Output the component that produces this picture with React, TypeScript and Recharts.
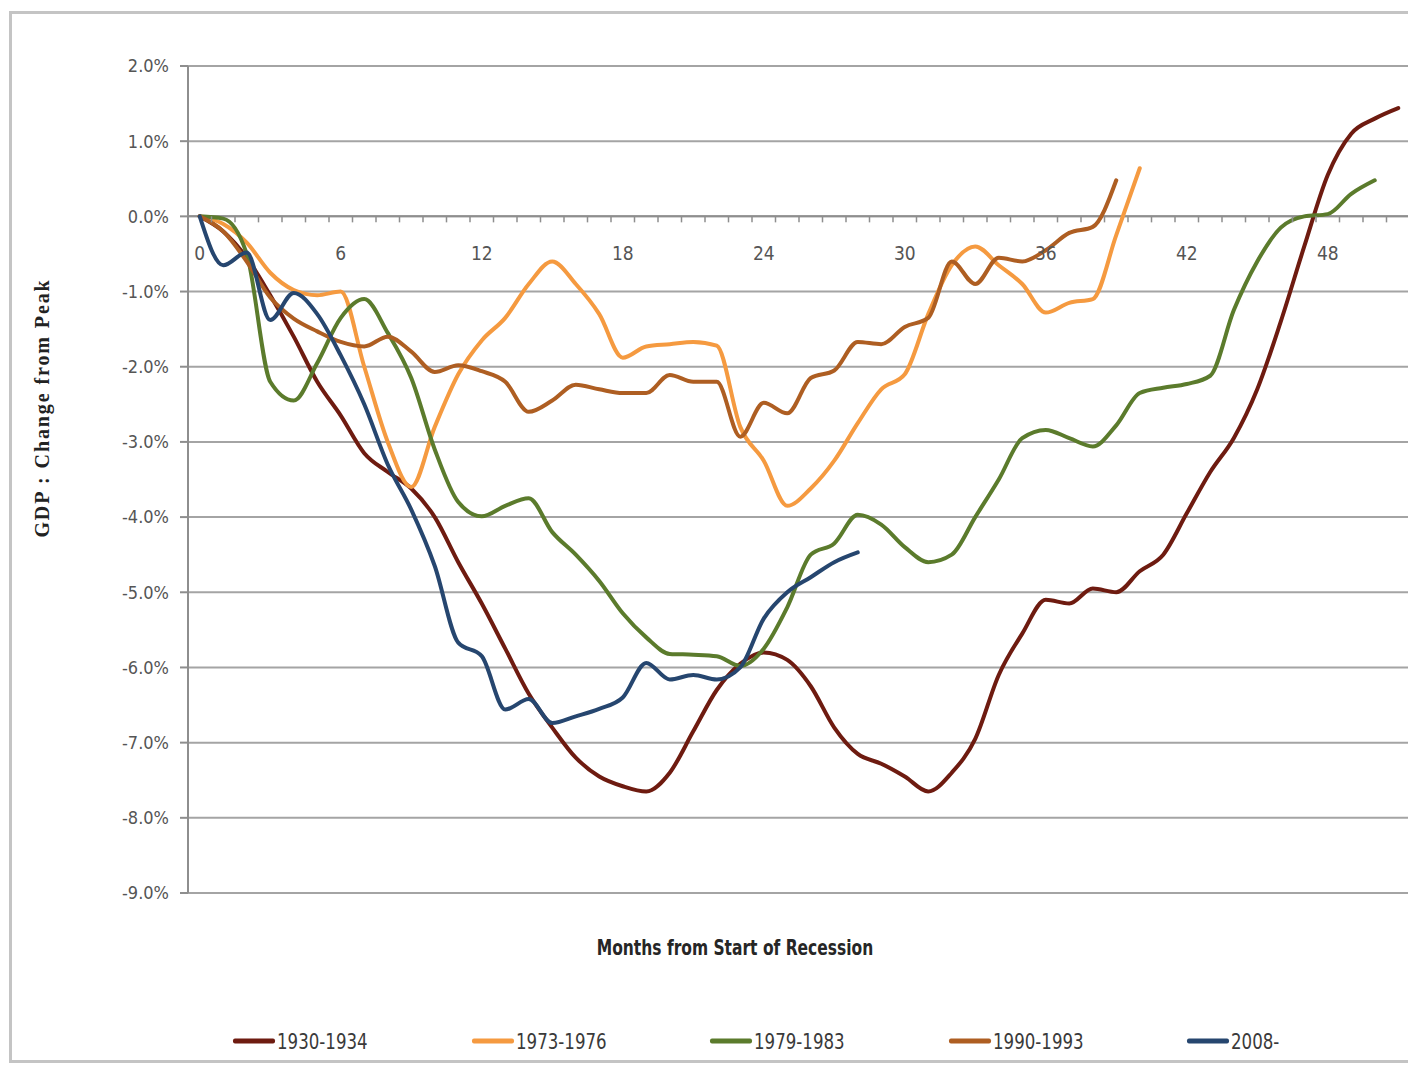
import React from 'react';
import { LineChart, Line, XAxis, YAxis, CartesianGrid, ReferenceLine } from 'recharts';

// ---- data ----
const months = [
  0, 1, 2, 3, 4, 5, 6, 7, 8, 9, 10, 11, 12, 13, 14, 15, 16, 17, 18, 19, 20, 21, 22, 23, 24, 25,
  26, 27, 28, 29, 30, 31, 32, 33, 34, 35, 36, 37, 38, 39, 40, 41, 42, 43, 44, 45, 46, 47, 48, 49, 50, 51,
];

const s1930 = [
  0, -0.2, -0.55, -1.05, -1.6, -2.2, -2.65, -3.15, -3.4, -3.62,
  -4.0, -4.6, -5.15, -5.75, -6.35, -6.8, -7.2, -7.45, -7.58, -7.65,
  -7.4, -6.85, -6.3, -5.95, -5.8, -5.9, -6.25, -6.8, -7.15, -7.28,
  -7.45, -7.65, -7.4, -6.95, -6.1, -5.55, -5.1, -5.15, -4.95, -5.0,
  -4.72, -4.5, -3.95, -3.4, -2.95, -2.3, -1.4, -0.4, 0.55, 1.1, 1.3, 1.44,
];

const s1973 = [
  0, -0.1, -0.35, -0.75, -0.98, -1.05, -1.0, -2.0, -3.0, -3.6,
  -2.8, -2.1, -1.65, -1.35, -0.9, -0.6, -0.9, -1.3, -1.88, -1.73,
  -1.7, -1.67, -1.72, -2.8, -3.25, -3.85, -3.62, -3.25, -2.75, -2.3,
  -2.1, -1.3, -0.65, -0.4, -0.65, -0.9, -1.28, -1.15, -1.1, -0.25, 0.64,
];

const s1979 = [
  0, -0.03, -0.5, -2.2, -2.45, -1.95, -1.35, -1.1, -1.55, -2.15,
  -3.1, -3.8, -3.99, -3.85, -3.75, -4.2, -4.5, -4.85, -5.28, -5.6,
  -5.82, -5.83, -5.85, -5.98, -5.75, -5.2, -4.5, -4.35, -3.97, -4.1,
  -4.4, -4.6, -4.5, -4.0, -3.5, -2.95, -2.84, -2.95, -3.06, -2.78,
  -2.35, -2.28, -2.23, -2.12, -1.25, -0.6, -0.15, 0.0, 0.03, 0.3, 0.48,
];

const s1990 = [
  0, -0.2, -0.6, -1.08, -1.36, -1.53, -1.67, -1.73, -1.6, -1.8,
  -2.07, -1.98, -2.06, -2.2, -2.6, -2.45, -2.24, -2.3, -2.35, -2.35,
  -2.11, -2.2, -2.2, -2.93, -2.48, -2.62, -2.15, -2.05, -1.67, -1.7,
  -1.47, -1.35, -0.6, -0.9, -0.55, -0.6, -0.45, -0.22, -0.14, 0.48,
];

const s2008 = [
  0, -0.65, -0.48, -1.38, -1.02, -1.3, -1.85, -2.5, -3.3, -3.9,
  -4.65, -5.67, -5.85, -6.56, -6.42, -6.74, -6.65, -6.55, -6.4, -5.94,
  -6.16, -6.1, -6.16, -6.0, -5.35, -5.0, -4.8, -4.6, -4.47,
];

const yTicks = [2, 1, 0, -1, -2, -3, -4, -5, -6, -7, -8, -9];
const labelEvery = 6;

const series = [
  { key: 's1930', name: '1930-1934', color: '#6E1B10', values: s1930 },
  { key: 's1973', name: '1973-1976', color: '#F59A40', values: s1973 },
  { key: 's1979', name: '1979-1983', color: '#5B7B2C', values: s1979 },
  { key: 's1990', name: '1990-1993', color: '#AE5E22', values: s1990 },
  { key: 's2008', name: '2008-', color: '#26466F', values: s2008 },
];

const data = months.map((m, i) => {
  const row: Record<string, number | null> = { month: m };
  series.forEach((s) => {
    row[s.key] = i < s.values.length ? s.values[i] : null;
  });
  return row;
});

// ---- layout ----
const W = 1420;
const H = 1070;
const margin = { top: 66, right: 10, bottom: 147, left: 0 };
const yAxisWidth = 188;
const xAxisHeight = 30;
const yMin = -9;
const yMax = 2;
const plotHeight = H - margin.top - margin.bottom - xAxisHeight;
const plotWidth = W - margin.left - margin.right - yAxisWidth;
const zeroY = margin.top + (plotHeight * (yMax - 0)) / (yMax - yMin);
const band = plotWidth / months.length;

const narrow = "'Liberation Sans Narrow', 'DejaVu Sans Condensed', 'Liberation Sans', sans-serif";
const axisGray = '#8e8e8e';

const MonthTick = (props: any) => {
  const { x, payload } = props;
  const m = payload.value as number;
  return (
    <g>
      <line x1={x - band / 2} x2={x - band / 2} y1={zeroY} y2={zeroY + 6} stroke={axisGray} strokeWidth={1.5} />
      {m % labelEvery === 0 && (
        <text x={x} y={zeroY + 44} textAnchor="middle" fontSize={19} fontFamily={narrow} fill="#555">
          {m}
        </text>
      )}
    </g>
  );
};

export default function App() {
  return (
    <div
      style={{
        position: 'absolute',
        left: 0,
        top: 0,
        width: 1408,
        height: 1070,
        overflow: 'hidden',
        background: '#fff',
      }}
    >
      <div
        style={{
          position: 'absolute',
          left: 9,
          top: 11,
          width: 1440,
          height: 1052,
          border: '3px solid #c4c4c4',
          boxSizing: 'border-box',
        }}
      />
      <div style={{ position: 'absolute', left: 0, top: 0 }}>
        <LineChart width={W} height={H} data={data} margin={margin}>
          <CartesianGrid vertical={false} stroke="#a4a4a4" strokeWidth={2} />
          <XAxis
            dataKey="month"
            type="category"
            interval={0}
            height={xAxisHeight}
            padding={{ left: band / 2, right: band / 2 }}
            axisLine={false}
            tickLine={false}
            tick={<MonthTick />}
          />
          <YAxis
            type="number"
            domain={[yMin, yMax]}
            ticks={yTicks}
            width={yAxisWidth}
            tickSize={8}
            tickMargin={11}
            axisLine={{ stroke: axisGray, strokeWidth: 2 }}
            tickLine={{ stroke: axisGray, strokeWidth: 2 }}
            tickFormatter={(v: number) => `${v.toFixed(1)}%`}
            tick={{ fontSize: 18, fontFamily: narrow, fill: '#555' }}
          />
          <ReferenceLine y={0} stroke={axisGray} strokeWidth={2} />
          {series.map((s) => (
            <Line
              key={s.key}
              type="monotone"
              dataKey={s.key}
              name={s.name}
              stroke={s.color}
              strokeWidth={4}
              dot={false}
              activeDot={false}
              connectNulls={false}
              isAnimationActive={false}
              strokeLinecap="round"
              strokeLinejoin="round"
            />
          ))}
        </LineChart>
      </div>

      <div
        style={{
          position: 'absolute',
          left: 42,
          top: 408,
          transform: 'translate(-50%, -50%) rotate(-90deg)',
          whiteSpace: 'nowrap',
          fontFamily: "'Liberation Serif', 'Times New Roman', serif",
          fontWeight: 'bold',
          fontSize: 20,
          letterSpacing: '1.9px',
          color: '#222',
        }}
      >
        GDP : Change from Peak
      </div>

      <div
        style={{
          position: 'absolute',
          left: 735,
          top: 948,
          transform: 'translate(-50%, -50%) scaleX(0.82)',
          whiteSpace: 'nowrap',
          fontFamily: narrow,
          fontWeight: 'bold',
          fontSize: 21,
          color: '#262626',
        }}
      >
        Months from Start of Recession
      </div>

      {series.map((s, i) => (
        <div
          key={s.key}
          style={{
            position: 'absolute',
            left: 233 + i * 238.5,
            top: 1041,
            transform: 'translateY(-50%)',
            display: 'flex',
            alignItems: 'center',
            whiteSpace: 'nowrap',
          }}
        >
          <span
            style={{
              display: 'inline-block',
              width: 42,
              height: 5,
              borderRadius: 2,
              background: s.color,
            }}
          />
          <span
            style={{
              marginLeft: 2,
              fontFamily: narrow,
              fontSize: 22,
              color: '#3a3a3a',
              display: 'inline-block',
              transform: 'scaleX(0.84)',
              transformOrigin: 'left center',
            }}
          >
            {s.name}
          </span>
        </div>
      ))}
    </div>
  );
}
